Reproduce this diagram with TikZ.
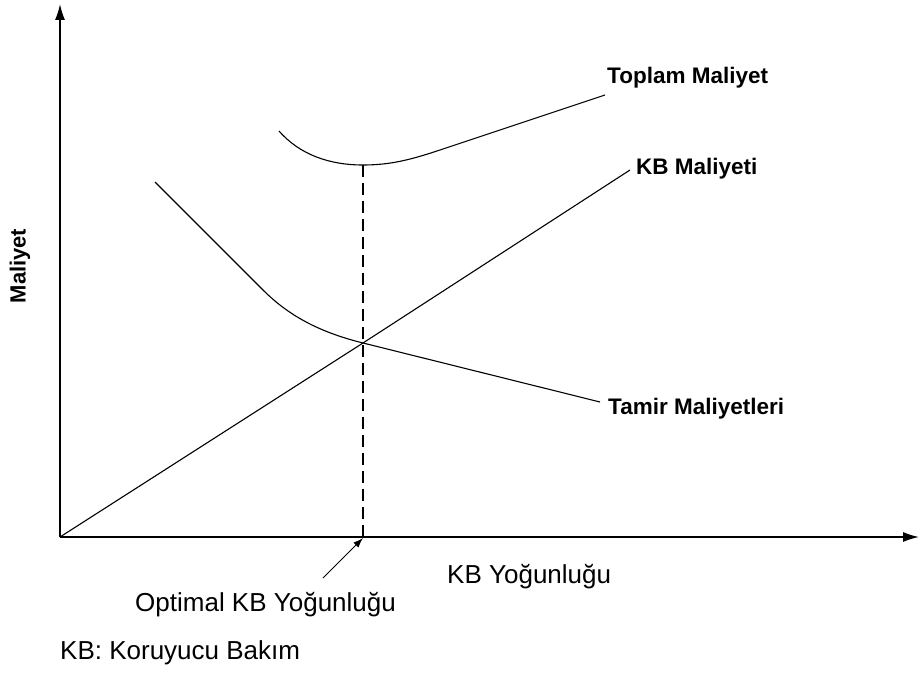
\documentclass[tikz,border=0pt]{standalone}
\usepackage{fontspec}
\setmainfont{Liberation Sans}
\usetikzlibrary{arrows.meta}
\begin{document}
\begin{tikzpicture}[x=1pt,y=-1pt,
  axis/.style={line width=1.4pt,-{Latex[length=16pt,width=10pt]}},
  curve/.style={line width=1.1pt},
  guide/.style={line width=1.1pt,dash pattern=on 12pt off 6pt},
  curvelabel/.style={anchor=west,inner sep=0pt,font=\fontsize{22.5}{26}\selectfont\bfseries},
  plainlabel/.style={anchor=west,inner sep=0pt,font=\fontsize{26}{30}\selectfont},
  pointer/.style={line width=1pt,-{Latex[length=10pt,width=7pt]}}]
  \useasboundingbox[fill=white] (0,0) rectangle (920,679);

  % axes
  \coordinate (O) at (60,537);
  \coordinate (ytop) at (60,4);
  \coordinate (xend) at (919,537);
  \draw[axis] (O) -- (ytop);
  \draw[axis] (O) -- (xend);

  % key points
  \coordinate (X) at (363,343);     % intersection of the two cost curves
  \coordinate (T) at (363,165);     % minimum of the total cost
  \coordinate (opt) at (363,538);   % optimal intensity on the x-axis

  % labels
  \node[curvelabel] (toplam) at (607,78) {Toplam Maliyet};
  \node[curvelabel] (kbm) at (636,169) {KB Maliyeti};
  \node[curvelabel] (tamir) at (608,409) {Tamir Maliyetleri};
  \node[plainlabel] (xlbl) at (447,577) {KB Yoğunluğu};
  \node[plainlabel] (optlbl) at (135,605) {Optimal KB Yoğunluğu};
  \node[plainlabel] (note) at (60,653) {KB: Koruyucu Bakım};
  \node[rotate=90,inner sep=0pt,font=\fontsize{22}{26}\selectfont\bfseries] (ylbl) at (20,266) {Maliyet};

  % PM cost: straight line through the origin
  \coordinate (kbend) at (630,170);
  \draw[curve] (O) -- (X) -- (kbend);

  % repair costs
  \coordinate (r0) at (155,182);
  \coordinate (r1) at (263,290);
  \coordinate (r2) at (600,402);
  \draw[curve] (r0) -- (r1) .. controls (291,318) and (323,333) .. (X) -- (r2);

  % total cost
  \coordinate (t0) at (279,131);
  \coordinate (t1) at (440,150);
  \coordinate (t2) at (605,95);
  \draw[curve] (t0) .. controls (300,155) and (330,165) .. (T)
               .. controls (390,165) and (410,160) .. (t1) -- (t2);

  % optimum guide and pointer
  \draw[guide] (T) -- (opt);
  \coordinate (ptail) at (323,578);
  \draw[pointer] (ptail) -- (opt);
\end{tikzpicture}
\end{document}
